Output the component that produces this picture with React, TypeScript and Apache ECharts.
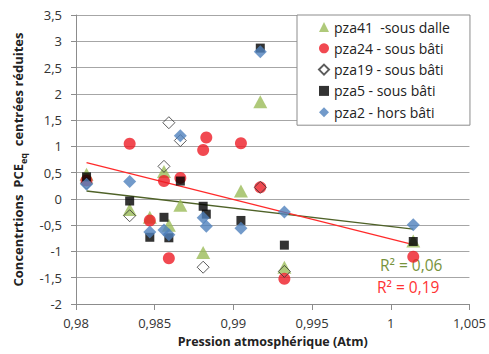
import React, { useEffect, useRef } from "react";
import * as echarts from "echarts";

const FONT = "'Open Sans', sans-serif";

const seriesNames = [
  "pza41  -sous dalle",
  "pza24 - sous bâti",
  "pza19 - sous bâti",
  "pza5 - sous bâti",
  "pza2 - hors bâti",
];

const pza41P = [0.98067, 0.98341, 0.98469, 0.98559, 0.9859, 0.98663, 0.98808, 0.99048, 0.99171, 0.99324, 1.00143];
const pza41V = [0.47, -0.2, -0.35, 0.52, -0.5, -0.12, -1.02, 0.15, 1.85, -1.3, -0.8];

const pza24P = [0.98067, 0.98341, 0.98469, 0.98559, 0.9859, 0.98663, 0.98808, 0.98828, 0.99048, 0.99171, 0.99324, 1.00143];
const pza24V = [0.35, 1.05, -0.41, 0.34, -1.13, 0.4, 0.93, 1.17, 1.06, 0.22, -1.52, -1.1];

const pza19P = [0.98067, 0.98341, 0.98559, 0.9859, 0.98663, 0.98808, 0.99171, 0.99324];
const pza19V = [0.3, -0.32, 0.62, 1.45, 1.11, -1.3, 0.22, -1.38];

const pza5P = [0.98067, 0.98341, 0.98469, 0.98559, 0.9859, 0.98663, 0.98808, 0.98828, 0.99048, 0.99171, 0.99324, 1.00143];
const pza5V = [0.42, -0.04, -0.73, -0.35, -0.74, 0.34, -0.14, -0.29, -0.41, 2.87, -0.88, -0.81];

const pza2P = [0.98067, 0.98341, 0.98469, 0.98559, 0.9859, 0.98663, 0.98808, 0.98828, 0.99048, 0.99171, 0.99324, 1.00143];
const pza2V = [0.28, 0.33, -0.63, -0.59, -0.68, 1.2, -0.36, -0.52, -0.56, 2.8, -0.25, -0.49];

const r2Labels = ["R² = 0,06", "R² = 0,19"];

const xMin = 0.98, xMax = 1.005, xStep = 0.005;
const yMin = -2, yMax = 3.5, yStep = 0.5;

function zip(p: number[], v: number[]) {
  return p.map((x, i) => [x, v[i]]);
}

function trend(p: number[], v: number[]) {
  const n = p.length;
  const mx = p.reduce((a, b) => a + b, 0) / n;
  const my = v.reduce((a, b) => a + b, 0) / n;
  let sxy = 0, sxx = 0;
  for (let i = 0; i < n; i++) {
    sxy += (p[i] - mx) * (v[i] - my);
    sxx += (p[i] - mx) * (p[i] - mx);
  }
  const b = sxy / sxx;
  const a = my - b * mx;
  const x0 = Math.min(...p), x1 = Math.max(...p);
  return [[x0, a + b * x0], [x1, a + b * x1]];
}

const fmt = (v: number) => String(Number(v.toFixed(3))).replace(".", ",");

export default function App() {
  const ref = useRef<HTMLDivElement>(null);
  useEffect(() => {
    document.body.style.margin = "0";
    const chart = echarts.init(ref.current!, null, { renderer: "svg" });
    const sc = (name: string, data: number[][], symbol: string, size: any, style: any) => ({
      type: "scatter",
      name,
      data,
      symbol,
      symbolSize: size,
      itemStyle: style,
      z: 3,
    });
    chart.setOption({
      animation: false,
      backgroundColor: "#ffffff",
      textStyle: { fontFamily: FONT },
      grid: { left: 70, right: 18, top: 15, bottom: 50 },
      legend: {
        data: seriesNames,
        orient: "vertical",
        left: 297,
        top: 15,
        padding: [4, 20, 5, 21],
        itemWidth: 10,
        itemHeight: 10,
        itemGap: 5.3,
        backgroundColor: "#fff",
        borderColor: "#8c8c8c",
        borderWidth: 1,
        textStyle: { fontFamily: FONT, fontSize: 14, color: "#222", lineHeight: 16 },
      },
      xAxis: {
        type: "value",
        min: xMin,
        max: xMax,
        interval: xStep,
        name: "Pression atmosphérique (Atm)",
        nameLocation: "middle",
        nameGap: 31,
        nameTextStyle: { fontFamily: FONT, fontSize: 12.5, fontWeight: "bold", color: "#222" },
        axisLine: { onZero: false, lineStyle: { color: "#8c8c8c" } },
        axisTick: { show: true, length: 6, lineStyle: { color: "#8c8c8c" } },
        axisLabel: { formatter: fmt, margin: 12, fontFamily: FONT, fontSize: 13, color: "#333" },
        splitLine: { show: false },
      },
      yAxis: {
        type: "value",
        min: yMin,
        max: yMax,
        interval: yStep,
        name: "Concentrtions  PCE{sub|eq}  centrées réduites",
        nameLocation: "middle",
        nameGap: 48,
        nameRotate: 90,
        nameTextStyle: {
          fontFamily: FONT,
          fontSize: 13,
          fontWeight: "bold",
          color: "#222",
          lineHeight: 20,
          rich: {
            sub: { fontFamily: FONT, fontSize: 9, fontWeight: "bold", color: "#222", lineHeight: 9, verticalAlign: "bottom" },
          },
        },
        axisLine: { show: true, lineStyle: { color: "#8c8c8c" } },
        axisTick: { show: true, length: 5, lineStyle: { color: "#8c8c8c" } },
        axisLabel: { formatter: fmt, margin: 14, fontFamily: FONT, fontSize: 13, color: "#333" },
        splitLine: { show: true, lineStyle: { color: "#a6a6a6" } },
      },
      series: [
        {
          type: "line",
          name: "trend41",
          data: trend(pza41P, pza41V),
          symbol: "none",
          lineStyle: { color: "#4f6228", width: 1.3 },
          z: 2,
          silent: true,
        },
        {
          type: "line",
          name: "trend24",
          data: trend(pza24P, pza24V),
          symbol: "none",
          lineStyle: { color: "#ff2a2a", width: 1.3 },
          z: 2,
          silent: true,
        },
        sc(seriesNames[0], zip(pza41P, pza41V), "triangle", [14, 13], { color: "#9bbb59" }),
        sc(seriesNames[1], zip(pza24P, pza24V), "circle", 12, { color: "#ee1c25" }),
        sc(seriesNames[2], zip(pza19P, pza19V), "diamond", 12, { color: "rgba(255,255,255,0)", borderColor: "#333", borderWidth: 1 }),
        sc(seriesNames[3], zip(pza5P, pza5V), "rect", 9, { color: "#000" }),
        sc(seriesNames[4], zip(pza2P, pza2V), "diamond", 13, { color: "#4f81bd" }),
      ],
      graphic: [
        {
          type: "text",
          x: 380,
          y: 265,
          style: { text: r2Labels[0], fill: "#77933c", fontFamily: FONT, fontSize: 15.5, lineHeight: 16, verticalAlign: "middle", align: "left" },
        },
        {
          type: "text",
          x: 377,
          y: 287,
          style: { text: r2Labels[1], fill: "#ff3333", fontFamily: FONT, fontSize: 15.5, lineHeight: 16, verticalAlign: "middle", align: "left" },
        },
      ],
    });
    return () => chart.dispose();
  }, []);
  return <div ref={ref} style={{ position: "fixed", left: 0, top: 0, width: 489, height: 354 }} />;
}
